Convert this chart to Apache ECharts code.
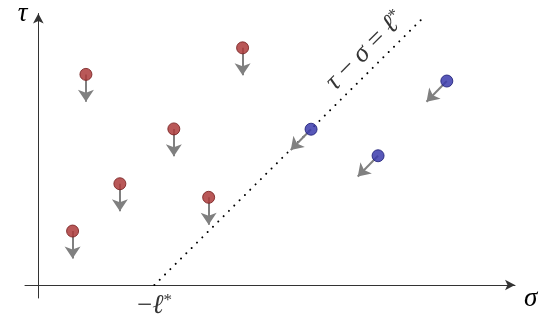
<!DOCTYPE html>
<html>
<head>
<meta charset="utf-8">
<script src="https://cdn.jsdelivr.net/npm/echarts@6/dist/echarts.min.js"></script>
<style>
  html, body { margin: 0; padding: 0; background: #fff; }
  #chart { width: 549px; height: 323px; }
</style>
</head>
<body>
<div id="chart"></div>
<script>
// Points below the boundary (red) drift straight down; points on or right of it (blue) drift diagonally.
const sigmaRed = [1.64, 7.04, 4.67, 2.81, 5.87, 1.18];
const tauRed   = [7.30, 8.22, 5.41, 3.51, 3.04, 1.87];
const sigmaBlue = [14.08, 9.40, 11.71];
const tauBlue   = [7.07, 5.40, 4.48];

// Displacement drawn for each group (Δσ, Δτ)
const redStep  = [0, -0.95];
const blueStep = [-0.70, -0.72];

// Boundary τ − σ = ℓ*: foot on the σ axis and upper end
const boundarySigma = [4.0, 13.36];
const boundaryTau   = [0.0, 9.36];

// Text
const axisNameSigma = 'σ';
const axisNameTau = 'τ';

const mathFont = '"Liberation Serif", "DejaVu Serif", serif';
const rich = {
  i: { fontFamily: mathFont, fontStyle: 'italic', fontSize: 27, color: '#000' },
  n: { fontFamily: mathFont, fontSize: 27, color: '#000' },
  s: { fontFamily: mathFont, fontSize: 17, color: '#000', verticalAlign: 'top' }
};

const redPts = sigmaRed.map((s, k) => [s, tauRed[k]]);
const bluePts = sigmaBlue.map((s, k) => [s, tauBlue[k]]);
const arrows = redPts.map(p => ({ coords: [p, [p[0] + redStep[0], p[1] + redStep[1]]] }))
  .concat(bluePts.map(p => ({ coords: [p, [p[0] + blueStep[0], p[1] + blueStep[1]]] })));

const chart = echarts.init(document.getElementById('chart'), null, { renderer: 'canvas' });

const axisLine = {
  show: true,
  onZero: true,
  symbol: ['none', 'arrow'],
  symbolSize: [8, 10],
  lineStyle: { color: '#333', width: 1 }
};

chart.setOption({
  animation: false,
  backgroundColor: '#fff',
  grid: { left: 25, right: 34, top: 12, bottom: 25 },
  xAxis: {
    type: 'value', min: -0.46, max: 16.43,
    axisLine: axisLine,
    axisTick: { show: false }, axisLabel: { show: false }, splitLine: { show: false },
    name: axisNameSigma, nameLocation: 'end', nameGap: 9,
    nameTextStyle: { fontFamily: mathFont, fontStyle: 'italic', fontSize: 27, color: '#000',
      align: 'left', verticalAlign: 'top' }
  },
  yAxis: {
    type: 'value', min: -0.45, max: 9.41,
    axisLine: axisLine,
    axisTick: { show: false }, axisLabel: { show: false }, splitLine: { show: false },
    name: axisNameTau, nameLocation: 'end', nameGap: 0,
    nameTextStyle: { fontFamily: mathFont, fontStyle: 'italic', fontSize: 27, color: '#000',
      align: 'right', verticalAlign: 'middle', padding: [0, 11, 0, 0] }
  },
  series: [
    {
      type: 'line',
      data: boundarySigma.map((s, k) => [s, boundaryTau[k]]),
      showSymbol: false, silent: true,
      lineStyle: { color: '#000', width: 2, type: [0.01, 7.5], cap: 'round' },
      z: 1
    },
    {
      type: 'lines',
      coordinateSystem: 'cartesian2d',
      data: arrows,
      symbol: ['none', 'arrow'],
      symbolSize: 12,
      lineStyle: { color: '#808080', width: 2, opacity: 1, curveness: 0 },
      z: 2
    },
    {
      type: 'scatter',
      data: redPts,
      symbol: 'circle', symbolSize: 12,
      itemStyle: { color: '#ad3b3b', borderColor: '#782020', borderWidth: 1, opacity: 0.85 },
      z: 3
    },
    {
      type: 'scatter',
      data: bluePts,
      symbol: 'circle', symbolSize: 12,
      itemStyle: { color: '#3b3bad', borderColor: '#202078', borderWidth: 1, opacity: 0.85 },
      z: 3
    },
    {
      // boundary equation, written along the line
      type: 'scatter',
      data: [[11.27, 8.12]],
      symbolSize: 0, silent: true,
      label: {
        show: true, position: 'inside', rotate: 45,
        formatter: '{i|τ}{n| − }{i|σ}{n| = }{i|ℓ}{s|*}',
        rich: rich
      },
      z: 4
    },
    {
      // foot of the boundary on the σ axis
      type: 'scatter',
      data: [[boundarySigma[0], boundaryTau[0]]],
      symbolSize: 0, silent: true,
      label: {
        show: true, position: 'bottom', distance: 7,
        formatter: '{n|−}{i|ℓ}{s|*}',
        rich: rich
      },
      z: 4
    }
  ]
});
</script>
</body>
</html>
